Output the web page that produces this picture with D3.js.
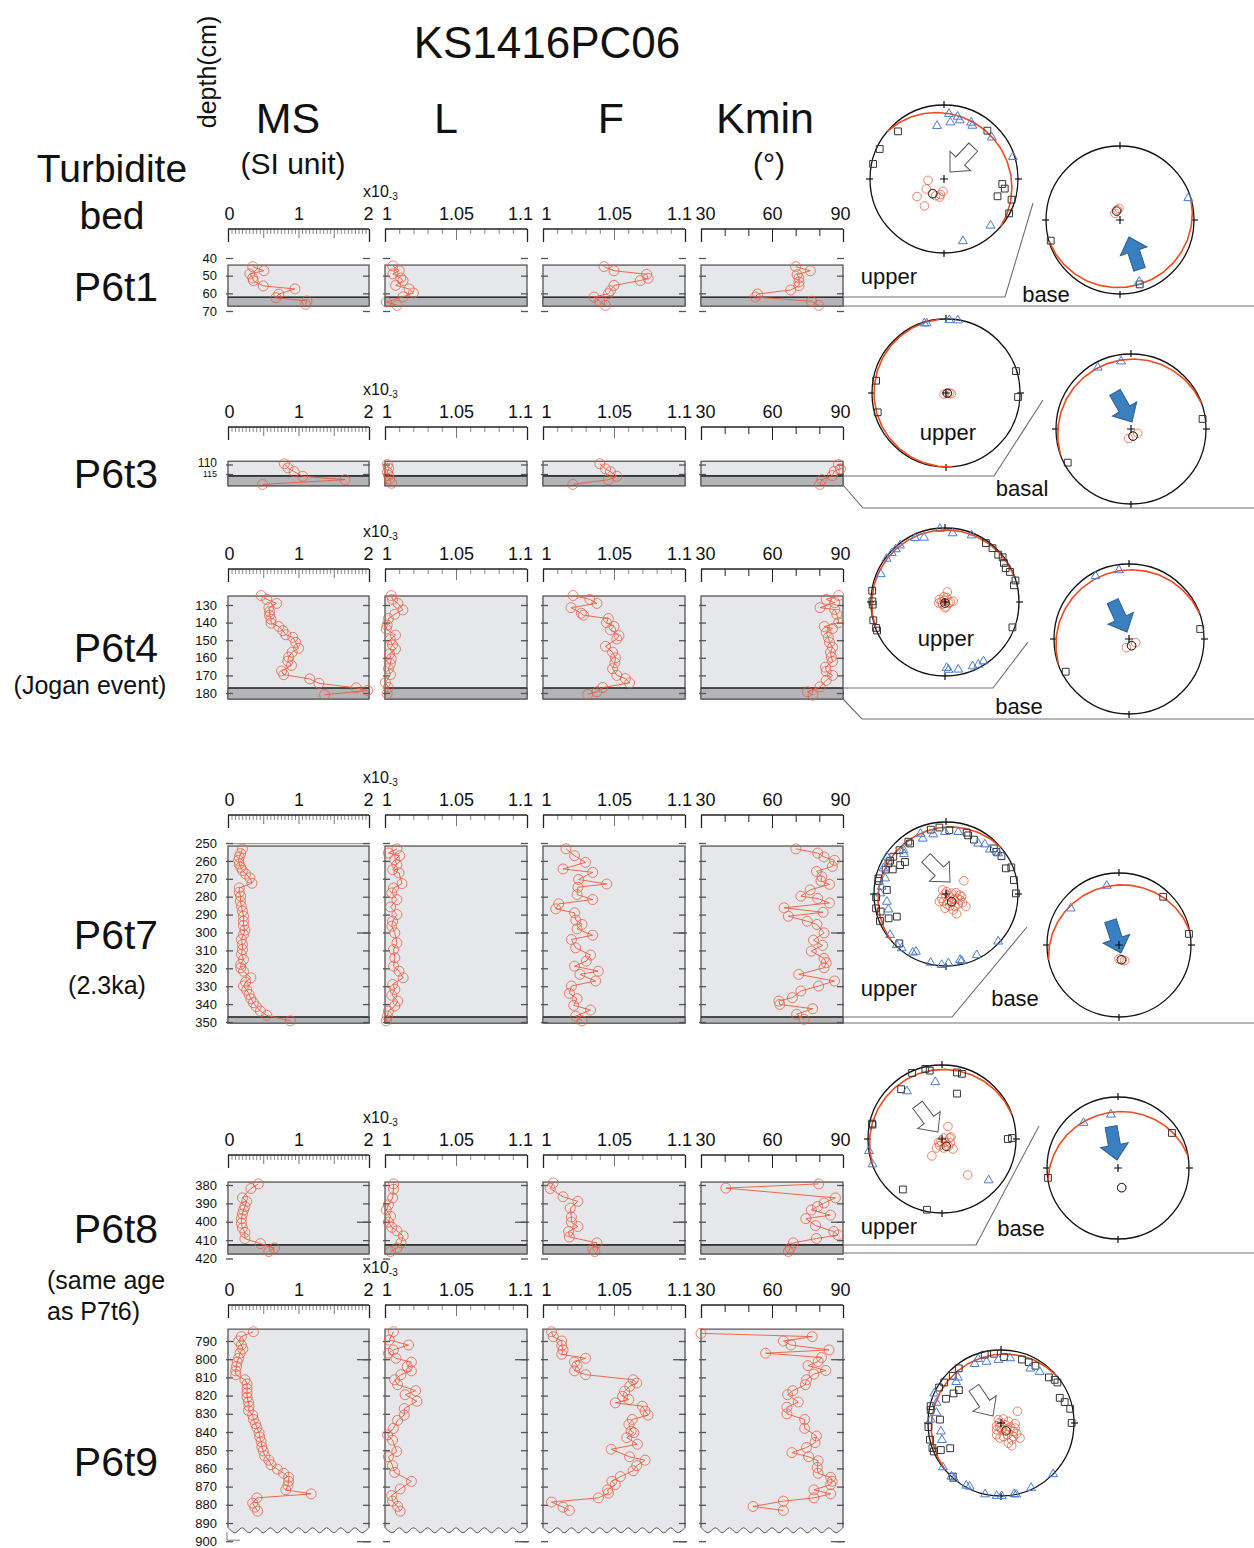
<!DOCTYPE html>
<html>
<head>
<meta charset="utf-8">
<script src="https://cdn.jsdelivr.net/npm/d3@7"></script>
<style>
  body { margin: 0; background: #fff; }
  svg text { font-family: "Liberation Sans", Arial, Helvetica, sans-serif; fill: #111; }
</style>
</head>
<body>
<svg id="chart" width="1254" height="1548"></svg>
<script>
// ---- profile data: [value, depth(cm)] ----
const p6t1_MS = [[0.35,44.9],[0.51,47.2],[0.31,49],[0.35,51.3],[0.36,52.8],[0.50,55.8],[0.95,57.5],[0.72,60.4],[0.68,62.5],[1.12,64.3],[1.10,66.2]];
const p6t1_L = [[1.0055,44.5],[1.010,47.2],[1.0055,49],[1.011,51.3],[1.0127,52.8],[1.0075,55.5],[1.017,57.5],[1.020,59.8],[1.0127,62],[1.001,64.9],[1.0085,66.8]];
const p6t1_F = [[1.043,44.9],[1.050,47.2],[1.073,49.2],[1.074,51.5],[1.0685,52.8],[1.050,55.5],[1.0475,58.5],[1.046,60.2],[1.036,62.1],[1.040,64.5],[1.044,66.8]];
const p6t1_Kmin = [[70,44.9],[76.2,47.2],[70.6,49.4],[71.4,51.3],[71.4,53.6],[71.4,55.7],[67.9,58.1],[53.9,60.4],[53,62.1],[76.7,64.5],[79.7,66.8]];

const p6t3_MS = [[0.80,109.6],[0.85,111.8],[0.94,113.8],[1.06,116.2],[1.66,118],[0.49,120.5]];
const p6t3_L = [[1.0017,110],[1.0025,112],[1.0017,114],[1.0025,115.8],[1.0032,117.7],[1.0046,119.9]];
const p6t3_F = [[1.040,109.6],[1.044,112.3],[1.0475,113.8],[1.052,116.2],[1.046,118],[1.021,120.5]];
const p6t3_Kmin = [[88.1,110],[88.9,112.3],[86.3,113.6],[85.5,115.9],[81.1,118],[80.2,120.5]];

const p6t4_MS = [[0.47,124.6],[0.55,126.8],[0.69,129.1],[0.58,131.5],[0.59,133.8],[0.59,135.8],[0.61,138.1],[0.61,140.3],[0.72,142.2],[0.78,144.6],[0.82,146.9],[0.92,148.4],[0.96,151.2],[1.0,154.6],[0.91,156.8],[0.86,159.6],[0.85,161.9],[0.90,164.3],[0.76,167.5],[0.79,169.6],[1.16,172],[1.29,174.5],[1.82,177.1],[1.98,178.6],[1.37,181]];
const p6t4_L = [[1.0044,124.6],[1.0053,126.8],[1.0091,129.1],[1.0126,132.8],[1.0068,135.3],[1.0024,137.7],[1.0015,141.4],[1.0009,143.7],[1.0074,147.1],[1.0038,149.7],[1.0053,152.7],[1.0074,155],[1.0032,157.8],[1.0044,160.6],[1.0038,163.4],[1.0024,166.2],[1.0038,169.6],[1.0003,174.1],[1.0024,176.9],[1.0015,180.3]];
const p6t4_F = [[1.0212,124.6],[1.033,126.8],[1.038,129.1],[1.0197,131.5],[1.027,134.7],[1.0285,135.8],[1.046,137.7],[1.0447,140],[1.05,142.2],[1.0476,144.1],[1.0535,147.4],[1.052,149.3],[1.044,153.5],[1.049,156.8],[1.051,160],[1.0506,162.8],[1.049,166.2],[1.052,170],[1.058,171.8],[1.061,174.3],[1.042,176.9],[1.038,179.3],[1.0315,180.8]];
const p6t4_Kmin = [[88.2,124.6],[82.9,126.8],[86.5,128.7],[80.3,131.5],[86.5,132.6],[87.4,135.3],[88.2,140],[82.1,142.2],[85.6,143.3],[82.9,145.6],[83.8,148.4],[84.3,151.2],[85.6,154],[84.7,156.8],[85.1,159.6],[85.6,162.1],[82.6,165.3],[82.9,167.7],[85.6,170],[82.9,172.8],[80.3,176.5],[75,179.3],[77.3,181.2]];

const p6t7_MS = [[0.205,253.3],[0.18,255.9],[0.16,257.8],[0.15,259.7],[0.16,261.7],[0.18,263.6],[0.205,265.4],[0.25,267.3],[0.31,269.5],[0.34,272.5],[0.16,275.1],[0.16,277.5],[0.18,279.7],[0.175,282.5],[0.19,285.3],[0.205,288.1],[0.22,290.9],[0.22,293.7],[0.22,296.1],[0.24,298.7],[0.22,301.1],[0.19,303.9],[0.205,306.7],[0.205,309.5],[0.19,312.3],[0.22,315.1],[0.18,317.8],[0.18,319.7],[0.22,321.6],[0.325,325.3],[0.25,327.7],[0.22,329.9],[0.265,332.2],[0.30,334.6],[0.325,337],[0.36,339.2],[0.40,341.4],[0.46,343.9],[0.55,346.3],[0.885,349.4]];
const p6t7_L = [[1.0084,253.3],[1.0024,255.6],[1.0104,257.1],[1.0069,259.3],[1.0084,262.1],[1.0054,264.9],[1.0099,266.7],[1.012,272.7],[1.006,275.1],[1.0048,277.9],[1.0084,281.6],[1.0039,285.7],[1.0084,290],[1.0054,293.7],[1.0048,296.5],[1.0069,300.2],[1.0084,305.8],[1.006,309.5],[1.0069,314.1],[1.006,318.8],[1.0099,321.6],[1.0128,325.3],[1.0054,329],[1.0069,331.8],[1.0048,335.1],[1.009,338.3],[1.0069,341.1],[1.0024,343.9],[1.0018,346.7],[1.0009,349.4]];
const p6t7_F = [[1.0162,253.2],[1.0222,257.1],[1.030,260.8],[1.0141,264.5],[1.035,266.4],[1.0251,270.4],[1.0449,272.9],[1.0246,274.7],[1.024,278.8],[1.035,281.6],[1.0111,284],[1.009,286.8],[1.0222,289],[1.0231,293.1],[1.0275,295.5],[1.024,298],[1.035,301.5],[1.020,303.9],[1.023,308.6],[1.0335,312.6],[1.0305,316],[1.0222,318.8],[1.0389,321.6],[1.026,323.4],[1.0371,327.1],[1.020,329.9],[1.0186,334],[1.024,337],[1.0216,340.7],[1.0335,343.3],[1.023,346.7],[1.0275,349.4]];
const p6t7_Kmin = [[70.1,253.3],[79.3,255.6],[82,257.8],[86.4,259.7],[85.5,263.1],[78.8,265.9],[81.1,268.8],[80.7,271.2],[84.3,273.1],[76.1,276.2],[72.2,279.7],[79.3,281],[84.3,283.5],[65.1,286.2],[81.6,288.7],[66.9,290.9],[74.9,293.7],[79,295.5],[82,300.2],[77.5,304.3],[81.4,307.2],[76.6,310.4],[82,314.5],[82.9,316.9],[82,319.7],[71.3,323.4],[86.4,327.1],[79.7,329.9],[72.2,332.7],[68.6,336.4],[62.9,338.3],[63.3,340.2],[77.2,342.6],[70.4,345.7],[73.6,348.5]];

const p6t8_MS = [[0.43,379.4],[0.325,381.9],[0.205,387],[0.265,388.9],[0.24,391.7],[0.22,393.6],[0.205,395.8],[0.19,398.3],[0.19,400.8],[0.205,403.4],[0.24,405.8],[0.24,409.2],[0.46,411.9],[0.66,414.3],[0.58,416.2]];
const p6t8_L = [[1.006,379.4],[1.006,382.3],[1.0054,387],[1.0024,390.8],[1.0009,393.6],[1.0039,397],[1.0024,400.2],[1.0048,403],[1.0084,404.9],[1.0128,407.7],[1.0113,411.5],[1.0084,414.3],[1.0039,416.2]];
const p6t8_F = [[1.0072,378.9],[1.0051,381.9],[1.0141,386.4],[1.0246,388.9],[1.0192,392.6],[1.020,397.4],[1.020,400.2],[1.0246,402.6],[1.018,405.3],[1.0186,408.3],[1.038,411.5],[1.035,414.7],[1.0365,416.2]];
const p6t8_Kmin = [[79.7,379.4],[40.5,381.7],[86.8,387],[82,389.8],[79.3,391.7],[76.6,393.6],[84.7,396.4],[74.3,398.3],[78.4,402.1],[86.1,405.3],[87.9,407.2],[78.8,409.1],[69,411.5],[67.7,414.3],[66.9,416.2]];

const p6t9_MS = [[0.36,784.9],[0.19,787.6],[0.15,790],[0.19,792.2],[0.21,794.4],[0.17,796.7],[0.15,799.5],[0.13,801.6],[0.12,804],[0.11,806.4],[0.11,808.5],[0.24,811.3],[0.27,813.6],[0.27,816.2],[0.27,818.5],[0.27,820.9],[0.29,823.5],[0.30,825.8],[0.29,828.2],[0.35,830.7],[0.36,833.1],[0.39,835.5],[0.41,837.6],[0.44,840.4],[0.45,842.7],[0.47,845.3],[0.48,848.2],[0.50,850.4],[0.52,853.1],[0.58,855.5],[0.61,858],[0.70,860.4],[0.79,862.7],[0.86,864.9],[0.86,867.1],[0.85,869.5],[0.82,871.8],[1.18,874],[0.41,876.2],[0.35,879.1],[0.38,881.3],[0.42,883.5]];
const p6t9_L = [[1.0059,784.9],[1.003,789.5],[1.0166,792.2],[1.0059,794.9],[1.0024,796.7],[1.0077,799.5],[1.0186,801.6],[1.0157,804],[1.0186,806.4],[1.0112,808.5],[1.0068,811.3],[1.0089,814],[1.0216,817.3],[1.0142,819.5],[1.0225,823.1],[1.0136,827.1],[1.0136,830.7],[1.0089,833.6],[1.0059,838],[1.0018,841.6],[1.0053,844.5],[1.0083,850.7],[1.0024,853.6],[1.0053,858.5],[1.0068,862.2],[1.0186,867.1],[1.0107,871.3],[1.0047,874.9],[1.0053,878],[1.0089,880.9],[1.0107,883.5]];
const p6t9_F = [[1.006,784.9],[1.0072,787.6],[1.0132,790],[1.0132,792.5],[1.0141,794.9],[1.0132,797.3],[1.030,799.5],[1.0222,801.6],[1.024,803.5],[1.0222,806.4],[1.030,808.5],[1.0635,811.3],[1.066,813.1],[1.0611,814.9],[1.0575,817.6],[1.056,820.4],[1.0605,822.2],[1.0509,824],[1.070,825.8],[1.0719,828.5],[1.074,830.7],[1.0629,833.1],[1.0605,835.8],[1.062,839.5],[1.064,840.4],[1.059,843.1],[1.0665,846.7],[1.048,849.5],[1.061,853.6],[1.0719,855.5],[1.066,858.5],[1.0635,861.3],[1.0545,864.5],[1.0485,867.1],[1.0509,868.9],[1.0455,871.8],[1.0461,873.6],[1.039,876.2],[1.006,878.5],[1.0141,881.3],[1.0186,883.1]];
const p6t9_Kmin = [[30,785.8],[77,787.6],[64.8,790],[68,792.2],[84.1,794.9],[57.3,796.7],[80.9,799.1],[79.5,801.3],[75.2,803.5],[82.7,806.2],[77.7,808.2],[74.6,811.3],[74.1,814],[68.8,817.3],[66.6,819.5],[71.1,823.5],[66.3,826.4],[66.3,830],[73.8,833.1],[73.8,838],[78.8,842.2],[78.2,845.8],[74.6,848.5],[68.4,851.3],[75.5,853.6],[79.5,855.8],[79.1,859.5],[79.5,862.7],[84.8,864.9],[85.4,867.1],[84.8,868.9],[77.7,871.8],[84.8,874],[77.7,876.2],[64.8,878],[52,880.9],[64.8,883.1]];

// ---- stereonet data: [trend, plunge] in degrees; plane = [dip direction, dip] ----
const netA_kmin = [[265,72.4],[240.5,67.6],[237,54.2],[216,53],[218.5,69.4],[206.6,69.4],[193.5,69.5],[193,72.4],[184.6,76.4]];
const netA_mean = [217,69.7];
const netA_kmax = [[316,11.5],[295,4.6],[282,2.3],[41.9,13.3],[94.9,22],[99,18],[107.9,25],[107,5.1],[117.8,0.5]];
const netA_kint = [[352.5,28.4],[4.4,12.7],[12.3,14.8],[6.4,24],[15,19],[25.7,16.5],[28,19.5],[49,15.5],[72.3,2.6],[135,12],[163,13.3]];
const netA_plane = [40,15];

const netB_kmin = [[345,78.5],[355,77.2],[323,80.8]];
const netB_mean = [339,79.6];
const netB_kmax = [[253.4,2.6],[163,9.9]];
const netB_kint = [[72.2,3.5],[162.7,13.8]];
const netB_plane = [163,10];

const netC_kmin = [[239,87.6],[108,88.8],[90,86],[97.6,84]];
const netC_mean = [100,88.5];
const netC_kmax = [[280,4.6],[254.2,4.6],[72.6,1],[93.2,2.8]];
const netC_kint = [[342.7,1.6],[344.5,2.6],[2.6,1.5],[9.3,0.5]];
const netC_plane = [265,3];

const netD_kmin = [[194,79.5],[164,82],[123,81.3]];
const netD_mean = [164,82];
const netD_kmax = [[82,4.1],[242,5]];
const netD_kint = [[331.6,7.5],[351.6,9.7]];
const netD_plane = [340,8];

const netE_kmin = [[295,83.3],[270,86],[333,88.2],[22.6,84.7],[106.7,85.8],[167,84.6],[229,86.3],[90,84],[13,78.7],[85,81],[180,83.5],[260,83.1],[348,84.2]];
const netE_mean = [180,88.8];
const netE_kmax = [[34.8,3.4],[41.4,3.4],[48.4,4.2],[52.2,1.7],[56.5,5.1],[60.9,6.8],[65.2,3.7],[73,0.5],[76.4,4.6],[110.6,3],[278.8,0.5],[270.5,2.2],[267.9,2.6],[255.7,0],[249.4,0.5],[247.2,0.5]];
const netE_kint = [[356,1],[6.3,7.2],[21.8,3.4],[334.9,5.1],[342,9.4],[321.5,2.6],[317,2.8],[312.6,2.6],[306.6,2],[293.5,6.1],[178.6,12],[177,9.2],[168.9,7.8],[156.7,6.1],[152,4.6],[147,5.1]];
const netE_plane = [340,3];

const netF_kmin = [[197,80.2],[159,82.3],[119,81.8]];
const netF_mean = [159,82.3];
const netF_kmax = [[82,4.6],[242.7,5.6]];
const netF_kint = [[332,5.6],[351.7,8]];
const netF_plane = [340,9];

const netG_kmin = [[320,84.1],[16,87.3],[83,83.6],[82.4,78.6],[94,74.2],[99.7,72.1],[53.5,64.8],[225,83.1],[199,80.9],[176,78.7],[161.6,75.8],[144.6,72.5],[129,72.1],[117.5,68.9],[122,63.4],[152,64.5],[155.4,70.2],[184,73.8],[158.7,82.8],[123.7,79.2],[111,76.3],[121,85.6],[146.8,78.4],[221,78.6],[113,72.9],[270,89]];
const netG_mean = [143.5,79.3];
const netG_kmax = [[346.7,9],[354.3,8],[3,12.3],[18.6,11],[20.7,14],[27.1,16.3],[46.4,9],[50.1,9.6],[55.7,7.5],[66.8,10.5],[67.8,2.3],[78.4,4.2],[89.5,3.2],[324.3,11.5],[324.6,15],[313.3,12.3],[305.3,11.3],[300.8,10.5],[298,10.4],[292,10.5],[294.8,19.7],[302.2,25.7],[308,28.5],[283,4],[281,5.6],[273.9,18.8],[267.3,3.2],[258.4,1],[255,6.8],[247.8,1],[247,14.5],[245.3,25.8],[223.4,6.3]];
const netG_kint = [[337,10],[337.3,17.6],[348,16.3],[359,14.8],[11.2,13.2],[32.5,18],[38,13.5],[44.6,14.3],[52,9],[313.6,20.5],[315.9,16.3],[302.2,3.2],[292.3,6.8],[284.4,14],[262.6,18.3],[255,18.3],[233.8,4.2],[224,1.6],[219.2,3.2],[209.6,7.2],[207.5,10.7],[192.6,2.6],[183.5,1.5],[178,4.2],[168,7.2],[166.8,5.1],[153.3,5.6],[132.3,2.3],[276.5,11],[270.6,9.6]];
const netG_plane = [320,10];

const netH_kmin = [[180,74.2],[167.5,72.7],[160,71.3]];
const netH_mean = [171,73.2];
const netH_kmax = [[42.5,10],[81,1.8]];
const netH_kint = [[307.2,17],[348.3,17]];
const netH_plane = [348,18];

const netI_kmin = [[25.3,74.7],[203,87.2],[59,87.9],[82.6,81.5],[77.5,79.9],[225,84.9],[135,84.9],[115.6,79.9],[212,78.4],[169.5,80],[137.7,79.2],[132.3,73.7],[211,68.3],[144.5,40],[199,82.3]];
const netI_mean = [149.4,80.7];
const netI_kmax = [[335.6,2.3],[346.6,3],[349.8,6.8],[12.7,8.7],[17,8.7],[320.6,14],[18.3,35.6],[282.4,3.6],[281.7,4.6],[90,12],[89.2,6.1],[217.8,14.8],[192,2.6]];
const netI_kint = [[353.3,23.6],[323.7,21],[260.7,0],[250,0],[131.5,17]];
const netI_plane = [340,7];

const netJ_kmin = [[169.3,67]];
const netJ_mean = [169.3,67];
const netJ_kmax = [[57,10.3],[262,0.5]];
const netJ_kint = [[322.7,21],[352.5,25]];
const netJ_plane = [350,22];

const netK_kmin = [[54.5,67.4],[321,85.2],[30,84.8],[77,81.5],[93,74.2],[238.4,84.3],[194,85.4],[174.3,82.5],[136.6,80.7],[114,78.9],[124,73.2],[124,68.7],[128.3,62.8],[147.4,67.7],[159.9,66],[154.8,61.8],[183.8,73.1],[200.4,76],[170,74.8],[151.5,75.1],[109.7,73.3],[213,81],[112.6,85.1],[270,88.1],[137.2,69.6]];
const netK_mean = [146.9,79.7];
const netK_kmax = [[346.6,4.4],[354.2,5.2],[2.6,10.7],[18.3,9.3],[24.5,9.4],[31,9.3],[46.4,10.3],[51.2,6.2],[54.3,5.4],[66.8,13.5],[71.8,9],[78.4,3.6],[90,3.6],[322.3,6],[314.4,8.3],[305.5,5],[299.8,2.6],[293.8,18.8],[301.9,24.4],[308,27.7],[283.5,1],[280.4,2.3],[273.2,17.4],[266.8,0.5],[256.8,0],[249.9,0],[247,0],[245.8,10.6],[243.6,23.3],[222,1.5]];
const netK_kint = [[336,12.5],[340.3,7.5],[346.7,14.8],[357.6,14.4],[8,11.3],[28.2,16.3],[37.1,13.2],[293.9,0],[287.4,8.2],[262,18],[254,17],[232.7,0],[222.8,0],[220,0],[209.1,2.2],[206.3,3.3],[192.6,0],[183.4,0],[179.5,0],[169.5,1.2],[168,0],[155.1,2.3],[134.4,0],[312.5,17.8],[316.5,15.2],[279,11.5],[272.8,4.2]];
const netK_plane = [320,8];

// ---- axis settings ----
const colNames = ['MS', 'L', 'F', 'Kmin'];
const colDomain = { MS: [0, 2], L: [1, 1.1], F: [1, 1.1], Kmin: [30, 90] };
const colLabels = { MS: [0, 1, 2], L: [1, 1.05, 1.1], F: [1, 1.05, 1.1], Kmin: [30, 60, 90] };
const msMinor = d3.range(1, 40).filter(i => i % 10).map(i => i / 20);
const lfMinor = [1.01, 1.02, 1.03, 1.04, 1.06, 1.07, 1.08, 1.09];
const colMinor = { MS: msMinor, L: lfMinor, F: lfMinor, Kmin: [40, 50, 70, 80] };
const colMid = { MS: [0.5, 1, 1.5], L: [1.05], F: [1.05], Kmin: [60] };

// ---- layout ----
const colRange = { MS: [228, 369], L: [385, 527], F: [543, 685], Kmin: [701, 843] };
// small horizontal nudges of end labels so neighbouring columns don't collide
const labelShift = { MS: { 0: 1, 2: -1 }, L: { 1: 1.5, 1.1: -7 }, F: { 1: 3, 1.1: -6 }, Kmin: { 30: 4, 90: -3 } };
const RED = '#ef5a3a', BLUE = '#4a7bcf';

const groups = [
  { name: 'P6t1', labelY: 286, sub: [], axisY: 229, ticks: [40, 50, 60, 70], dom: [40, 70], yr: [258, 311], box: [44, 67.2], band: 62.2,
    data: { MS: p6t1_MS, L: p6t1_L, F: p6t1_F, Kmin: p6t1_Kmin } },
  { name: 'P6t3', labelY: 473, sub: [], axisY: 427, ticks: [110, 115], small: [115], dom: [110, 115], yr: [464.5, 474], box: [108.3, 121.2], band: 116,
    data: { MS: p6t3_MS, L: p6t3_L, F: p6t3_F, Kmin: p6t3_Kmin } },
  { name: 'P6t4', labelY: 647, sub: [['(Jogan event)', 90, 685, 'middle']], axisY: 569, ticks: [130, 140, 150, 160, 170, 180], dom: [130, 180], yr: [605, 693], box: [124.9, 183.4], band: 177.2,
    data: { MS: p6t4_MS, L: p6t4_L, F: p6t4_F, Kmin: p6t4_Kmin } },
  { name: 'P6t7', labelY: 934, sub: [['(2.3ka)', 107, 985, 'middle']], axisY: 815, ticks: d3.range(250, 351, 10), dom: [250, 350], yr: [843, 1022], box: [251.7, 350.6], band: 347.2, topLine: 250.4,
    data: { MS: p6t7_MS, L: p6t7_L, F: p6t7_F, Kmin: p6t7_Kmin } },
  { name: 'P6t8', labelY: 1228, sub: [['(same age', 47, 1280, 'start'], ['as P7t6)', 47, 1311, 'start']], axisY: 1155, ticks: [380, 390, 400, 410, 420], dom: [380, 420], yr: [1185, 1258.5], box: [378.4, 417.5], band: 412.6,
    data: { MS: p6t8_MS, L: p6t8_L, F: p6t8_F, Kmin: p6t8_Kmin } },
  { name: 'P6t9', labelY: 1461, sub: [], axisY: 1305, ticks: d3.range(790, 901, 10), dom: [790, 890], yr: [1341, 1523], box: [783.5, 894], band: null, wavy: true,
    data: { MS: p6t9_MS, L: p6t9_L, F: p6t9_F, Kmin: p6t9_Kmin } }
];

const nets = [
  { cx: 944, cy: 179, r: 74, kmin: netA_kmin, mean: netA_mean, kmax: netA_kmax, kint: netA_kint, plane: netA_plane, arrow: { fill: 'open', tip: [6, -7], az: 223 } },
  { cx: 1120, cy: 220, r: 74, kmin: netB_kmin, mean: netB_mean, kmax: netB_kmax, kint: netB_kint, plane: netB_plane, arrow: { fill: 'blue', tip: [9, 17], az: 342 } },
  { cx: 946, cy: 393, r: 74, kmin: netC_kmin, mean: netC_mean, kmax: netC_kmax, kint: netC_kint, plane: netC_plane },
  { cx: 1131, cy: 429, r: 75, kmin: netD_kmin, mean: netD_mean, kmax: netD_kmax, kint: netD_kint, plane: netD_plane, arrow: { fill: 'blue', tip: [1, -7], az: 150 } },
  { cx: 945, cy: 602, r: 74, kmin: netE_kmin, mean: netE_mean, kmax: netE_kmax, kint: netE_kint, plane: netE_plane },
  { cx: 1129, cy: 639, r: 75, kmin: netF_kmin, mean: netF_mean, kmax: netF_kmax, kint: netF_kint, plane: netF_plane, arrow: { fill: 'blue', tip: [-2, -7], az: 155 } },
  { cx: 946, cy: 894, r: 72, kmin: netG_kmin, mean: netG_mean, kmax: netG_kmax, kint: netG_kint, plane: netG_plane, arrow: { fill: 'open', tip: [4, -12], az: 135 } },
  { cx: 1119, cy: 945, r: 72, kmin: netH_kmin, mean: netH_mean, kmax: netH_kmax, kint: netH_kint, plane: netH_plane, arrow: { fill: 'blue', tip: [2, 8], az: 162 } },
  { cx: 942, cy: 1139, r: 74, kmin: netI_kmin, mean: netI_mean, kmax: netI_kmax, kint: netI_kint, plane: netI_plane, arrow: { fill: 'open', tip: [-4, -7], az: 143 } },
  { cx: 1118, cy: 1168, r: 71, kmin: netJ_kmin, mean: netJ_mean, kmax: netJ_kmax, kint: netJ_kint, plane: netJ_plane, arrow: { fill: 'blue', tip: [-1, -8], az: 170 } },
  { cx: 1001, cy: 1423, r: 73, kmin: netK_kmin, mean: netK_mean, kmax: netK_kmax, kint: netK_kint, plane: netK_plane, arrow: { fill: 'open', tip: [-8, -7], az: 146 } }
];

const connectors = [
  [[843, 297], [1005, 297], [1033, 203]], [[843, 306], [1254, 306]],
  [[843, 476], [994, 476], [1043, 400]], [[843, 485], [863, 508], [1254, 508]],
  [[843, 688], [993, 688], [1028, 642]], [[843, 699], [862, 719], [1254, 719]],
  [[843, 1017], [952, 1017], [1027, 927]], [[843, 1023], [1254, 1023]],
  [[843, 1245], [976, 1245], [1039, 1126]], [[843, 1253], [1254, 1253]]
];
const netLabels = [
  ['upper', 889, 276], ['base', 1046, 294], ['upper', 948, 432], ['basal', 1022, 488],
  ['upper', 946, 638], ['base', 1019, 706], ['upper', 889, 988], ['base', 1015, 998],
  ['upper', 889, 1226], ['base', 1021, 1228]
];

const svg = d3.select('#chart');
const fmt = d3.format('~g');
const noDomain = s => s.select('.domain').remove();

// ---- headers ----
function label(txt, x, y, size, anchor) {
  return svg.append('text').attr('x', x).attr('y', y).attr('dy', '0.36em')
    .attr('text-anchor', anchor || 'middle').style('font-size', size + 'px').text(txt);
}
label('KS1416PC06', 547, 42, 44);
label('Turbidite', 112, 168, 39);
label('bed', 112, 215, 39);
label('MS', 288, 118, 43);
label('(SI unit)', 293, 163, 30);
label('L', 446, 118, 43);
label('F', 611, 118, 43);
label('Kmin', 765, 118, 43);
label('(°)', 769, 163, 30);
svg.append('text').attr('transform', 'translate(216,72) rotate(-90)')
  .attr('text-anchor', 'middle').style('font-size', '25px').text('depth(cm)');

// ---- depth profiles ----
groups.forEach(gr => {
  const g = svg.append('g');
  const y = d3.scaleLinear().domain(gr.dom).range(gr.yr);
  const yTop = y(gr.box[0]), yBot = y(gr.box[1]);

  g.append('text').attr('x', 116).attr('y', gr.labelY).attr('dy', '0.36em')
    .attr('text-anchor', 'middle').style('font-size', '41px').text(gr.name);
  gr.sub.forEach(s => g.append('text').attr('x', s[1]).attr('y', s[2]).attr('dy', '0.36em')
    .attr('text-anchor', s[3]).style('font-size', '25px').text(s[0]));

  const xl = g.append('text').attr('x', 363).attr('y', gr.axisY - 32).style('font-size', '16px');
  xl.append('tspan').text('x10');
  xl.append('tspan').attr('dy', 3).style('font-size', '10px').text('-3');

  colNames.forEach(c => {
    const x = d3.scaleLinear().domain(colDomain[c]).range(colRange[c]);
    const [x0, x1] = colRange[c];

    // top axis: labels above, ticks hanging down
    const ax = g.append('g').attr('transform', `translate(0,${gr.axisY})`);
    ax.append('g').call(d3.axisTop(x).tickValues(colLabels[c]).tickSize(0).tickPadding(9).tickFormat(fmt))
      .call(noDomain).selectAll('text').style('font-size', '18px')
      .attr('dx', d => labelShift[c][d] || 0);
    ax.append('g').call(d3.axisTop(x).tickValues(colMinor[c]).tickSize(c === 'Kmin' ? -7 : -5).tickFormat(''))
      .call(noDomain).selectAll('line').attr('stroke', c === 'Kmin' ? '#222' : '#8a8a8a');
    ax.append('g').call(d3.axisTop(x).tickValues(colMid[c]).tickSize(c === 'Kmin' ? -13 : c === 'MS' ? -9 : -11).tickFormat(''))
      .call(noDomain).selectAll('line').attr('stroke', c === 'Kmin' ? '#222' : '#777');
    ax.append('g').call(d3.axisTop(x).tickValues(colDomain[c]).tickSize(-13).tickFormat(''))
      .call(noDomain).selectAll('line').attr('stroke', '#222').attr('stroke-width', 1.3);
    ax.append('line').attr('x1', x0).attr('x2', x1).attr('stroke', '#222').attr('stroke-width', 1.3);

    // panel box
    if (gr.wavy) {
      const wave = d3.range(0, 21).map(i => [x0 + i * (x1 - x0) / 20, yBot + (i % 2 ? 2.5 : -2.5)]);
      g.append('path').attr('d', d3.area().x(d => d[0]).y0(yTop).y1(d => d[1]).curve(d3.curveCardinal)(wave))
        .attr('fill', '#e6e7ea');
      g.append('path').attr('d', d3.line().curve(d3.curveCardinal)(wave))
        .attr('fill', 'none').attr('stroke', '#555').attr('stroke-width', 1);
      g.append('path').attr('d', `M${x0},${yBot - 2.5}V${yTop}H${x1}V${yBot - 2.5}`)
        .attr('fill', 'none').attr('stroke', '#555').attr('stroke-width', 1.3);
    } else {
      g.append('rect').attr('x', x0).attr('y', yTop).attr('width', x1 - x0).attr('height', yBot - yTop)
        .attr('fill', '#e6e7ea').attr('stroke', '#555').attr('stroke-width', 1.3);
      if (gr.band != null) {
        g.append('rect').attr('x', x0).attr('y', y(gr.band)).attr('width', x1 - x0).attr('height', yBot - y(gr.band))
          .attr('fill', '#b4b5b9').attr('stroke', '#555').attr('stroke-width', 1.1);
        g.append('line').attr('x1', x0).attr('x2', x1).attr('y1', y(gr.band)).attr('y2', y(gr.band))
          .attr('stroke', '#333').attr('stroke-width', 1.6);
      }
    }
    if (gr.topLine && c === 'MS') {
      g.append('line').attr('x1', x0).attr('x2', x1).attr('y1', y(gr.topLine)).attr('y2', y(gr.topLine))
        .attr('stroke', '#888').attr('stroke-width', 1);
    }

    // depth ticks on both sides
    const tkL = g.append('g').attr('transform', `translate(${x0 - 2},0)`)
      .call(d3.axisRight(y).tickValues(gr.ticks).tickSize(7).tickFormat('')).call(noDomain);
    const tkR = g.append('g').attr('transform', `translate(${x1 + 1},0)`)
      .call(d3.axisLeft(y).tickValues(gr.ticks).tickSize(7).tickFormat('')).call(noDomain);
    [tkL, tkR].forEach(t => t.selectAll('line').attr('stroke', '#555').attr('stroke-width', 1.3));
    const hundreds = gr.ticks.filter(v => v % 100 === 0);
    if (hundreds.length) {
      g.append('g').attr('transform', `translate(${x1 + 2},0)`)
        .call(d3.axisLeft(y).tickValues(hundreds).tickSize(14).tickFormat('')).call(noDomain)
        .selectAll('line').attr('stroke', '#555').attr('stroke-width', 1.3);
    }

    // data series
    const pts = gr.data[c];
    g.append('path').datum(pts)
      .attr('d', d3.line().x(d => x(d[0])).y(d => y(d[1])))
      .attr('fill', 'none').attr('stroke', RED).attr('stroke-width', 0.9);
    g.selectAll(null).data(pts).join('circle')
      .attr('cx', d => x(d[0])).attr('cy', d => y(d[1])).attr('r', 5)
      .attr('fill', 'none').attr('stroke', RED).attr('stroke-width', 0.9).attr('opacity', 0.85);
  });

  // depth labels
  g.append('g').attr('transform', 'translate(228,0)')
    .call(d3.axisLeft(y).tickValues(gr.ticks).tickSize(0).tickPadding(11).tickFormat(d3.format('d')))
    .call(noDomain).selectAll('text')
    .style('font-size', d => (gr.small && gr.small.includes(d)) ? '9px' : (gr.small ? '12px' : '13px'))
    .attr('dy', d => (gr.small && !gr.small.includes(d)) ? '0.15em' : '0.32em');

  if (gr.wavy) {
    g.append('path').attr('d', `M227,${yBot + 2}V${y(900) - 1}H240`)
      .attr('fill', 'none').attr('stroke', '#777').attr('stroke-width', 1);
  }
});

// ---- connectors ----
connectors.forEach(c => svg.append('path').attr('d', d3.line()(c))
  .attr('fill', 'none').attr('stroke', '#6f6f6f').attr('stroke-width', 1.1));

// ---- stereonets (lower hemisphere, equal area) ----
const arrowShape = [[0, 0], [-14, -15], [-6, -15], [-6, -34], [6, -34], [6, -15], [14, -15]];
nets.forEach(n => {
  const g = svg.append('g');
  const proj = d3.geoAzimuthalEqualArea().rotate([0, 90]).scale(n.r / Math.SQRT2).translate([n.cx, n.cy]);
  const geo = d3.geoPath(proj);
  const P = d => proj([d[0], -d[1]]);

  g.append('circle').attr('cx', n.cx).attr('cy', n.cy).attr('r', n.r)
    .attr('fill', '#fff').attr('stroke', '#111').attr('stroke-width', 1.3);
  [0, 90, 180, 270].forEach(a => {
    const s = Math.sin(a * Math.PI / 180), c = Math.cos(a * Math.PI / 180);
    g.append('line').attr('x1', n.cx + s * (n.r - 3)).attr('y1', n.cy - c * (n.r - 3))
      .attr('x2', n.cx + s * (n.r + 4)).attr('y2', n.cy - c * (n.r + 4)).attr('stroke', '#111').attr('stroke-width', 1.2);
  });

  const [dd, dip] = n.plane;
  g.append('path').attr('d', geo({ type: 'LineString', coordinates: [[dd - 90, 0], [dd, -dip], [dd + 90, 0]] }))
    .attr('fill', 'none').attr('stroke', '#f04a1e').attr('stroke-width', 1.6);

  g.selectAll(null).data(n.kmax).join('path')
    .attr('transform', d => `translate(${P(d)})`).attr('d', d3.symbol(d3.symbolSquare, 46))
    .attr('fill', 'none').attr('stroke', '#333').attr('stroke-width', 1);
  g.selectAll(null).data(n.kint).join('path')
    .attr('transform', d => `translate(${P(d)})`).attr('d', d3.symbol(d3.symbolTriangle, 34))
    .attr('fill', 'none').attr('stroke', BLUE).attr('stroke-width', 1);
  g.selectAll(null).data(n.kmin).join('circle')
    .attr('cx', d => P(d)[0]).attr('cy', d => P(d)[1]).attr('r', 4.3)
    .attr('fill', 'none').attr('stroke', RED).attr('stroke-width', 0.9).attr('opacity', 0.85);
  const m = P(n.mean);
  g.append('circle').attr('cx', m[0]).attr('cy', m[1]).attr('r', 4.3)
    .attr('fill', 'none').attr('stroke', '#222').attr('stroke-width', 1);

  if (n.arrow) {
    const a = n.arrow;
    g.append('path').attr('d', d3.line()(arrowShape) + 'Z')
      .attr('transform', `translate(${n.cx + a.tip[0]},${n.cy + a.tip[1]}) rotate(${a.az - 180})`)
      .attr('fill', a.fill === 'blue' ? '#3a7fc0' : '#fff')
      .attr('stroke', a.fill === 'blue' ? '#2b5f92' : '#555').attr('stroke-width', 1);
  }

  g.append('path').attr('d', `M${n.cx - 4},${n.cy}H${n.cx + 4}M${n.cx},${n.cy - 4}V${n.cy + 4}`)
    .attr('stroke', '#111').attr('stroke-width', 1.2);
});

// labels drawn last so the ones inside the nets stay visible
netLabels.forEach(l => label(l[0], l[1], l[2], 22));
</script>
</body>
</html>
